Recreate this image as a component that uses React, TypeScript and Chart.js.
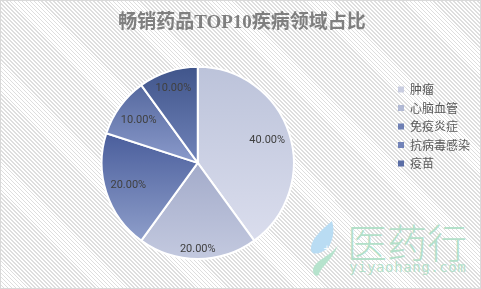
import React, { useEffect, useRef } from "react";
import { Chart, registerables } from "chart.js";

Chart.register(...registerables);

// ---- data ----
const titleText = "畅销药品TOP10疾病领域占比";
const categories = ["肿瘤", "心脑血管", "免疫炎症", "抗病毒感染", "疫苗"];
const drugCounts = [4, 2, 2, 1, 1];

// ---- styles ----
const gradientTops = ["#bcc3da", "#a3abca", "#4a5e9c", "#56699f", "#40558b"];
const gradientBottoms = ["#dadded", "#c3c9df", "#8e9eca", "#8a9acb", "#7083b9"];
const legendColors = ["#c9cde0", "#b1b9d4", "#6f80b4", "#7283b8", "#5a6da5"];
const labelRadii = [0.76, 0.9, 0.76, 0.76, 0.82];

const sliceGradientPlugin = {
  id: "sliceGradient",
  beforeDatasetsDraw(chart: any) {
    const meta = chart.getDatasetMeta(0);
    const ctx = chart.ctx;
    meta.data.forEach((arc: any, i: number) => {
      const { x, y, startAngle, endAngle, outerRadius } = arc.getProps(
        ["x", "y", "startAngle", "endAngle", "outerRadius"],
        true
      );
      const ys = [y, y + outerRadius * Math.sin(startAngle), y + outerRadius * Math.sin(endAngle)];
      [-Math.PI / 2, Math.PI / 2, (3 * Math.PI) / 2].forEach((t) => {
        if (t >= startAngle && t <= endAngle) ys.push(y + outerRadius * Math.sin(t));
      });
      const top = Math.min(...ys);
      const bottom = Math.max(...ys);
      const g = ctx.createLinearGradient(0, top, 0, bottom);
      g.addColorStop(0, gradientTops[i]);
      g.addColorStop(1, gradientBottoms[i]);
      arc.options.backgroundColor = g;
    });
  },
};

const percentLabelPlugin = {
  id: "percentLabels",
  afterDatasetsDraw(chart: any) {
    const meta = chart.getDatasetMeta(0);
    const ctx = chart.ctx;
    const data = chart.data.datasets[0].data as number[];
    const total = data.reduce((a, b) => a + b, 0);
    ctx.save();
    ctx.font = "11px Roboto, 'Liberation Sans', sans-serif";
    ctx.fillStyle = "#404040";
    ctx.textAlign = "center";
    ctx.textBaseline = "middle";
    meta.data.forEach((arc: any, i: number) => {
      const { x, y, startAngle, endAngle, outerRadius } = arc.getProps(
        ["x", "y", "startAngle", "endAngle", "outerRadius"],
        true
      );
      const mid = (startAngle + endAngle) / 2;
      const r = outerRadius * labelRadii[i];
      const pct = ((data[i] / total) * 100).toFixed(2) + "%";
      ctx.fillText(pct, x + Math.cos(mid) * r, y + Math.sin(mid) * r);
    });
    ctx.restore();
  },
};

const legendShiftPlugin = {
  id: "legendShift",
  afterLayout(chart: any) {
    if (chart.legend) {
      chart.legend.top -= 4;
      chart.legend.bottom -= 4;
    }
  },
};

function PieChart() {
  const ref = useRef<HTMLCanvasElement | null>(null);
  useEffect(() => {
    if (!ref.current) return;
    const chart = new Chart(ref.current, {
      type: "pie",
      data: {
        labels: categories,
        datasets: [
          {
            data: drugCounts,
            backgroundColor: legendColors,
            borderColor: "#ffffff",
            borderWidth: 2,
          },
        ],
      },
      options: {
        responsive: false,
        animation: false,
        devicePixelRatio: 1,
        events: [],
        layout: { padding: { left: 3, right: 2, top: 0, bottom: 30 } },
        plugins: {
          tooltip: { enabled: false },
          title: {
            display: true,
            text: titleText,
            color: "#7f7f7f",
            font: {
              family: "'Liberation Serif', 'Noto Sans CJK SC', serif",
              size: 19,
              weight: "bold",
            },
            padding: { top: 11, bottom: 31 },
          },
          legend: {
            display: true,
            position: "right",
            labels: {
              boxWidth: 6,
              boxHeight: 6,
              padding: 6.5,
              color: "#595959",
              font: { family: "'Noto Sans CJK SC', sans-serif", size: 12 },
              generateLabels: (c: any) =>
                (Chart as any).overrides.pie.plugins.legend.labels
                  .generateLabels(c)
                  .map((l: any) => ({
                    ...l,
                    fillStyle: legendColors[l.index],
                    strokeStyle: "rgba(0,0,0,0)",
                    lineWidth: 0,
                  })),
            },
          },
        },
      } as any,
      plugins: [sliceGradientPlugin, percentLabelPlugin, legendShiftPlugin],
    });
    return () => chart.destroy();
  }, []);
  return <canvas ref={ref} width={481} height={289} style={{ position: "absolute", left: 0, top: 0 }} />;
}

export default function App() {
  return (
    <div
      style={{
        position: "absolute",
        left: 0,
        top: 0,
        width: 481,
        height: 289,
        boxSizing: "border-box",
        border: "1px solid #d9d9d9",
        background:
          "repeating-linear-gradient(45deg, #ffffff 0px, #ffffff 1.6px, #dedede 1.6px, #dedede 2.8px)",
        overflow: "hidden",
      }}
    >
      <svg
        width={45}
        height={65}
        style={{ position: "absolute", left: 300, top: 214 }}
        viewBox="0 0 45 65"
      >
        <path d="M31 6 C22 14, 9 24, 10 35 C11 41, 20 39, 27 33 C32 26, 34 15, 31 6 Z" fill="#b9dcf3" />
        <path d="M37 30 C31 41, 13 45, 12 55 C12 60, 15 62, 18 60 C19 52, 31 46, 37 30 Z" fill="#b6e3cd" />
        <text x={22} y={36} fontSize={9} fill="#ffffff" fontFamily="DejaVu Sans">+</text>
      </svg>
      <div
        style={{
          position: "absolute",
          left: 346,
          top: 220,
          fontFamily: "'Noto Sans CJK SC', sans-serif",
          fontSize: 40,
          lineHeight: "40px",
          fontWeight: 300,
          color: "#b3e0c9",
          whiteSpace: "nowrap",
        }}
      >
        医药行
      </div>
      <div
        style={{
          position: "absolute",
          left: 348,
          top: 259,
          fontFamily: "'DejaVu Sans Mono', monospace",
          fontSize: 14,
          lineHeight: "14px",
          letterSpacing: 0.6,
          color: "#b3e0c9",
          whiteSpace: "nowrap",
        }}
      >
        yiyaohang.com
      </div>
      <PieChart />
    </div>
  );
}
